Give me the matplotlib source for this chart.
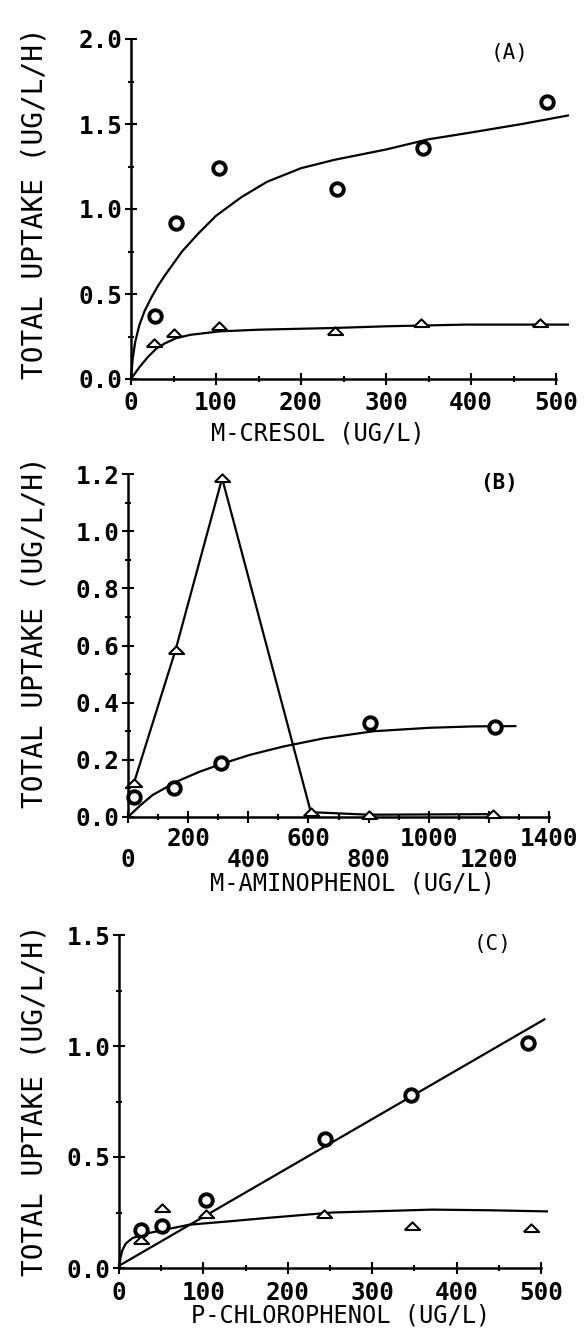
import matplotlib
matplotlib.use("Agg")
from matplotlib import pyplot as plt
from matplotlib.ticker import MultipleLocator, FixedLocator

# (A) m-cresol
a_circ_x = [28, 53, 104, 242, 344, 489]
a_circ_y = [0.37, 0.92, 1.24, 1.12, 1.36, 1.63]
a_tri_x = [27, 51, 104, 240, 341, 481]
a_tri_y = [0.21, 0.27, 0.31, 0.28, 0.33, 0.33]
a_circ_fit_x = [0, 2, 5, 10, 16, 24, 32, 40, 60, 80, 100, 130, 160, 200, 240, 300, 350, 400, 460, 514]
a_circ_fit_y = [0, 0.12, 0.22, 0.32, 0.40, 0.48, 0.55, 0.61, 0.75, 0.86, 0.96, 1.07, 1.16, 1.24, 1.29, 1.35, 1.41, 1.45, 1.50, 1.55]
a_tri_fit_x = [0, 10, 20, 30, 40, 53, 70, 104, 150, 238, 300, 394, 514]
a_tri_fit_y = [0, 0.07, 0.13, 0.18, 0.21, 0.24, 0.26, 0.28, 0.29, 0.30, 0.31, 0.32, 0.32]

# (B) m-aminophenol
b_circ_x = [20, 153, 309, 804, 1220]
b_circ_y = [0.07, 0.10, 0.19, 0.33, 0.316]
b_tri_x = [20, 158, 313, 608, 800, 1214]
b_tri_y = [0.12, 0.584, 1.185, 0.017, 0.008, 0.01]
b_fit_x = [0, 40, 82, 160, 237, 309, 404, 514, 650, 816, 1000, 1150, 1288]
b_fit_y = [0, 0.04, 0.077, 0.123, 0.158, 0.185, 0.217, 0.246, 0.275, 0.30, 0.312, 0.317, 0.318]

# (C) p-chlorophenol
c_circ_x = [26, 51, 103, 244, 346, 485]
c_circ_y = [0.17, 0.19, 0.305, 0.58, 0.78, 1.015]
c_tri_x = [26, 51, 103, 243, 347, 488]
c_tri_y = [0.125, 0.27, 0.245, 0.245, 0.187, 0.178]
c_lin_x = [0, 504]
c_lin_y = [0.01, 1.12]
c_fit_x = [0, 2, 4, 8, 16, 36, 83, 130, 174, 253, 371, 440, 507]
c_fit_y = [0, 0.05, 0.08, 0.11, 0.135, 0.158, 0.195, 0.21, 0.225, 0.25, 0.263, 0.26, 0.255]

W, H = 586, 1329
MONO = "DejaVu Sans Mono"
YLABEL = "TOTAL UPTAKE (UG/L/H)"
TICKSIZE = 17.5
tri_marker = [(-1.3, -0.6), (1.3, -0.6), (0, 0.7), (-1.3, -0.6)]


def rect(x0, y0, x1, y1):
    # pixel box -> figure fraction (y0 = bottom pixel row, y1 = top)
    return [x0 / W, 1 - y0 / H, (x1 - x0) / W, (y0 - y1) / H]


def style(ax, xend, xmaj, xmin, ymaj, ymin, yfmt):
    for s in ("top", "right"):
        ax.spines[s].set_visible(False)
    for s in ("left", "bottom"):
        ax.spines[s].set_linewidth(1.8)
    ax.spines["bottom"].set_bounds(0, xend)
    ax.xaxis.set_major_locator(FixedLocator(xmaj))
    ax.xaxis.set_minor_locator(MultipleLocator(xmin))
    ax.yaxis.set_major_locator(FixedLocator(ymaj))
    ax.yaxis.set_minor_locator(MultipleLocator(ymin))
    ax.set_yticklabels([yfmt % v for v in ymaj], fontfamily=MONO,
                       fontweight="bold", fontsize=TICKSIZE)
    ax.set_xticklabels([str(v) for v in xmaj], fontfamily=MONO,
                       fontweight="bold", fontsize=TICKSIZE)
    ax.tick_params(which="major", direction="inout", length=8, width=1.5)
    ax.tick_params(which="minor", direction="inout", length=4, width=1.5)
    ax.tick_params(axis="y", pad=2)
    ax.tick_params(axis="x", pad=5)
    ax.set_facecolor("none")


def labels(ax, xlabel, xpos, ypos):
    ax.set_xlabel(xlabel, fontfamily=MONO, fontsize=17, va="center")
    ax.xaxis.set_label_coords(xpos[0] / W, 1 - xpos[1] / H, transform=fig.transFigure)
    ax.set_ylabel(YLABEL, fontfamily=MONO, fontsize=20, va="center")
    ax.yaxis.set_label_coords(ypos[0] / W, 1 - ypos[1] / H, transform=fig.transFigure)


def points(ax, x, y, kind):
    if kind == "o":
        ax.plot(x, y, ls="none", marker="o", ms=9, mfc="white", mec="black",
                mew=2.8, clip_on=False, zorder=4)
    else:
        ax.plot(x, y, ls="none", marker=tri_marker, ms=11, mfc="white",
                mec="black", mew=1.5, clip_on=False, zorder=4)


fig = plt.figure(figsize=(W / 100, H / 100), dpi=100)

# ---- (A)
ax = fig.add_axes(rect(131, 379, 131 + 520 * 0.85, 39))
ax.set_xlim(0, 520)
ax.set_ylim(0, 2.0)
ax.plot(a_circ_fit_x, a_circ_fit_y, color="black", lw=1.6, clip_on=False)
ax.plot(a_tri_fit_x, a_tri_fit_y, color="black", lw=1.6, clip_on=False)
points(ax, a_circ_x, a_circ_y, "o")
points(ax, a_tri_x, a_tri_y, "^")
style(ax, 500, [0, 100, 200, 300, 400, 500], 50,
      [0, 0.5, 1.0, 1.5, 2.0], 0.25, "%.1f")
ax.text(445, 1.92, "(A)", fontfamily=MONO, fontsize=15, ha="center", va="center")
labels(ax, "M-CRESOL (UG/L)", (318, 433), (35, 203))

# ---- (B)
ax = fig.add_axes(rect(128, 817, 549, 474))
ax.set_xlim(0, 1400)
ax.set_ylim(0, 1.2)
ax.plot(b_fit_x, b_fit_y, color="black", lw=1.6, clip_on=False)
ax.plot(b_tri_x, b_tri_y, color="black", lw=1.6, clip_on=False)
points(ax, b_circ_x, b_circ_y, "o")
points(ax, b_tri_x, b_tri_y, "^")
style(ax, 1400, [0, 200, 400, 600, 800, 1000, 1200, 1400], 100,
      [0, 0.2, 0.4, 0.6, 0.8, 1.0, 1.2], 0.1, "%.1f")
# labels alternate between two rows
for i, t in enumerate(ax.xaxis.get_major_ticks()):
    t.set_pad(3 if i % 2 else 18)
ax.text(1235, 1.17, "(B)", fontfamily=MONO, fontsize=15, fontweight="bold",
        ha="center", va="center")
labels(ax, "M-AMINOPHENOL (UG/L)", (352, 884), (35, 632))

# ---- (C)
ax = fig.add_axes(rect(119, 1268, 119 + 510 * 0.844, 935))
ax.set_xlim(0, 510)
ax.set_ylim(0, 1.5)
ax.plot(c_lin_x, c_lin_y, color="black", lw=1.6, clip_on=False)
ax.plot(c_fit_x, c_fit_y, color="black", lw=1.6, clip_on=False)
points(ax, c_circ_x, c_circ_y, "o")
points(ax, c_tri_x, c_tri_y, "^")
style(ax, 500, [0, 100, 200, 300, 400, 500], 50,
      [0, 0.5, 1.0, 1.5], 0.25, "%.1f")
ax.text(443, 1.46, "(C)", fontfamily=MONO, fontsize=15, ha="center", va="center")
labels(ax, "P-CHLOROPHENOL (UG/L)", (341, 1315), (35, 1100))

fig.savefig("out.png", dpi=100)
